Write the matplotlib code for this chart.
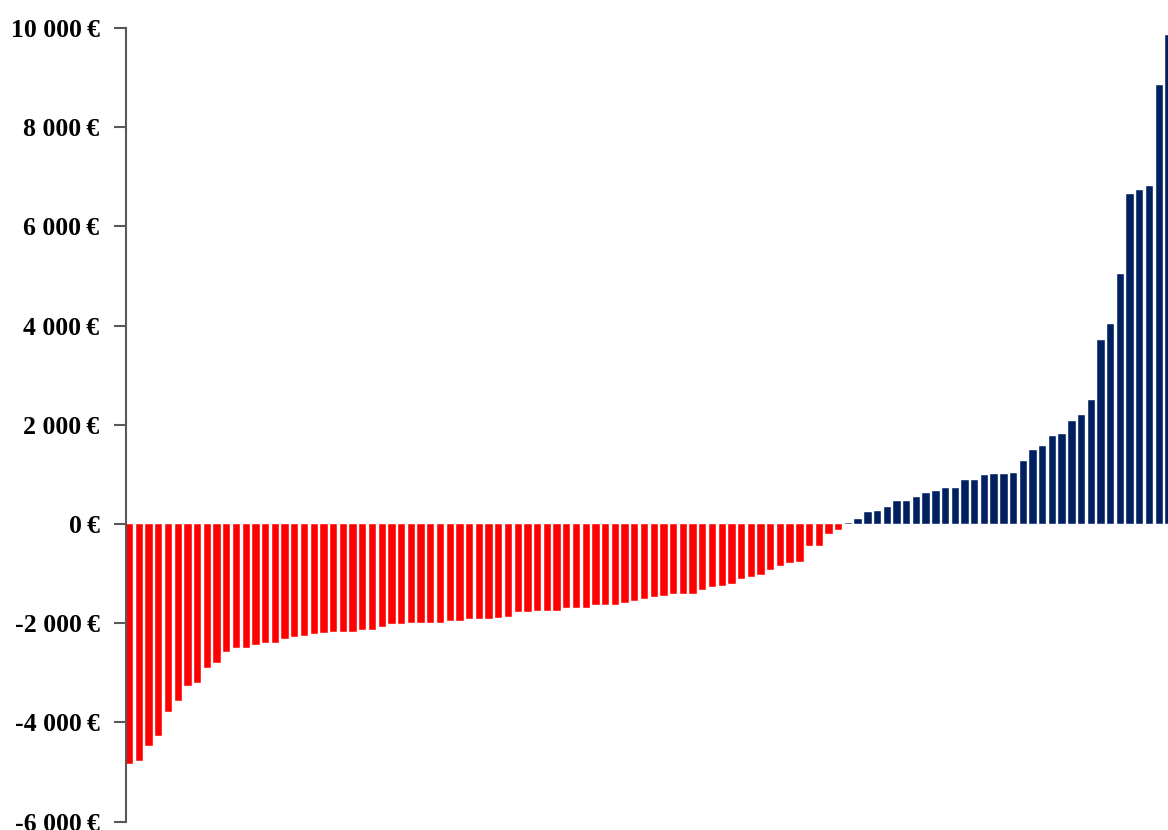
import matplotlib
matplotlib.use("Agg")
import matplotlib.pyplot as plt
import numpy as np

# sorted gains / losses per item (euros)
losses = [-4830, -4780, -4470, -4270, -3800, -3570, -3260, -3210, -2900, -2810,
          -2590, -2500, -2500, -2430, -2400, -2400, -2320, -2280, -2250, -2220,
          -2200, -2170, -2170, -2170, -2140, -2140, -2070, -2010, -2010, -1990,
          -1990, -1990, -1990, -1960, -1960, -1910, -1910, -1910, -1890, -1870,
          -1780, -1780, -1750, -1750, -1750, -1700, -1700, -1700, -1630, -1630,
          -1630, -1600, -1550, -1520, -1470, -1450, -1420, -1420, -1420, -1340,
          -1270, -1240, -1210, -1110, -1060, -1030, -930, -850, -790, -770,
          -440, -440, -200, -130]
gains = [30, 100, 240, 260, 340, 460, 460, 540, 620, 670,
         720, 720, 880, 880, 980, 1000, 1000, 1030, 1270, 1500,
         1580, 1780, 1810, 2070, 2200, 2500, 3700, 4040, 5050, 6650,
         6730, 6810, 8850, 9860]

yticks = [-6000, -4000, -2000, 0, 2000, 4000, 6000, 8000, 10000]
ytick_labels = ["-6 000\u2009€", "-4 000\u2009€", "-2 000\u2009€", "0\u2009€", "2 000\u2009€",
                "4 000\u2009€", "6 000\u2009€", "8 000\u2009€", "10 000\u2009€"]

values = np.array(losses + gains)
x = np.arange(len(values))
colors = ["#FF0000" if v < 0 else "#002060" for v in values]

fig = plt.figure(figsize=(11.68, 8.30), dpi=100)
ax = fig.add_axes([126 / 1168, 8.4 / 830, (1168 - 126) / 1168, (821.6 - 28) / 830])

ax.bar(x, values, width=0.755, color=colors, edgecolor="white", linewidth=0.3)

ax.set_xlim(-0.378, 106.9)
ax.set_ylim(-6000, 10000)
ax.set_yticks(yticks)
ax.set_yticklabels(ytick_labels, fontsize=18.5, fontweight="bold",
                   family=["Liberation Serif", "DejaVu Serif"])
ax.tick_params(axis="y", direction="out", length=9, width=1.5, color="#595959", pad=10)
ax.set_xticks([])

for side in ["top", "right", "bottom"]:
    ax.spines[side].set_visible(False)
ax.spines["left"].set_color("#595959")
ax.spines["left"].set_linewidth(1.5)

fig.savefig("out.png", dpi=100)
